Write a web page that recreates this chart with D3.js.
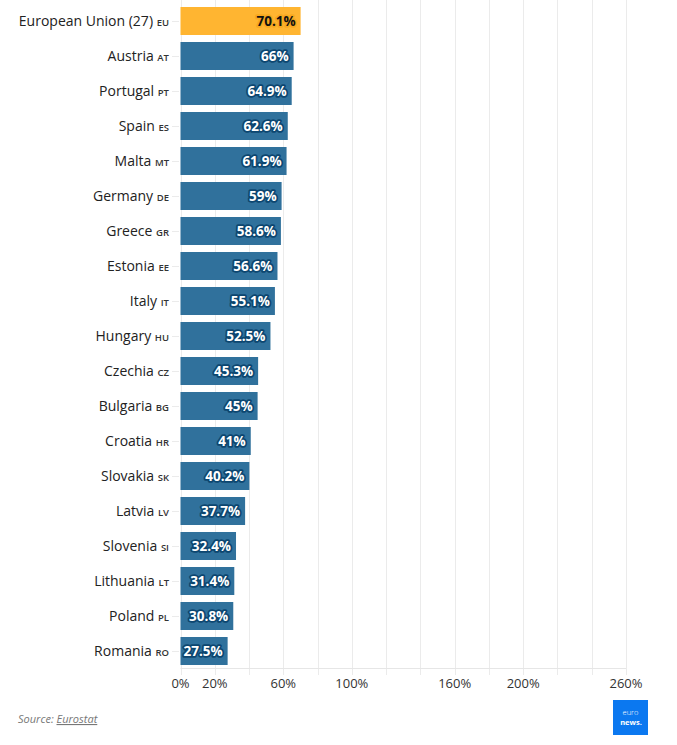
<!DOCTYPE html>
<html>
<head>
<meta charset="utf-8">
<script src="https://cdn.jsdelivr.net/npm/d3@7"></script>
<style>
  body { margin: 0; background: #fff; font-family: "Open Sans", sans-serif; }
  svg text { font-family: "Open Sans", sans-serif; }
</style>
</head>
<body>
<div id="chart"></div>
<script>
// podatki
const countries = ["European Union (27)", "Austria", "Portugal", "Spain", "Malta", "Germany", "Greece", "Estonia", "Italy", "Hungary", "Czechia", "Bulgaria", "Croatia", "Slovakia", "Latvia", "Slovenia", "Lithuania", "Poland", "Romania"];
const codes = ["EU", "AT", "PT", "ES", "MT", "DE", "GR", "EE", "IT", "HU", "CZ", "BG", "HR", "SK", "LV", "SI", "LT", "PL", "RO"];
const values = [70.1, 66, 64.9, 62.6, 61.9, 59, 58.6, 56.6, 55.1, 52.5, 45.3, 45, 41, 40.2, 37.7, 32.4, 31.4, 30.8, 27.5];
const gridTicks = [0, 20, 40, 60, 80, 100, 120, 140, 160, 180, 200, 220, 240, 260];
const tickLabels = [0, 20, 60, 100, 160, 200, 260];

const width = 677, height = 745;
const margin = { top: 3.5, left: 180.5, right: 51, bottom: 76.5 };

const rows = countries.map((c, i) => ({ name: c, code: codes[i], value: values[i], eu: i === 0 }));

const svg = d3.select("#chart").append("svg")
  .attr("width", width)
  .attr("height", height);

const x = d3.scaleLinear()
  .domain([0, 260])
  .range([margin.left, width - margin.right]);

const y = d3.scaleBand()
  .domain(countries)
  .range([margin.top, height - margin.bottom])
  .paddingInner(0.2)
  .paddingOuter(0.1);

const plotBottom = 668;

// mreža
svg.append("g")
  .selectAll("line")
  .data(gridTicks)
  .join("line")
  .attr("x1", d => Math.round(x(d)) + 0.5)
  .attr("x2", d => Math.round(x(d)) + 0.5)
  .attr("y1", 0)
  .attr("y2", plotBottom + 7)
  .attr("stroke", "#ebebeb")
  .attr("stroke-width", 1);

// os x
svg.append("line")
  .attr("x1", x(0)).attr("x2", x(260))
  .attr("y1", plotBottom + 0.5).attr("y2", plotBottom + 0.5)
  .attr("stroke", "#e6e6e6");

svg.append("g")
  .selectAll("text")
  .data(tickLabels)
  .join("text")
  .attr("x", d => x(d))
  .attr("y", 688)
  .attr("text-anchor", "middle")
  .attr("font-size", 13)
  .attr("fill", "#333")
  .text(d => d + "%");

// kratke oznake ob kategorijah
svg.append("g")
  .selectAll("line")
  .data(rows)
  .join("line")
  .attr("x1", 172).attr("x2", 179)
  .attr("y1", d => y(d.name) + y.bandwidth() / 2 + 0.5)
  .attr("y2", d => y(d.name) + y.bandwidth() / 2 + 0.5)
  .attr("stroke", "#ebebeb");

// stolpci
svg.append("g")
  .selectAll("rect")
  .data(rows)
  .join("rect")
  .attr("x", x(0))
  .attr("y", d => y(d.name))
  .attr("width", d => x(d.value) - x(0))
  .attr("height", y.bandwidth())
  .attr("fill", d => d.eu ? "#ffb531" : "#30719c");

// imena držav
const lab = svg.append("g")
  .selectAll("text")
  .data(rows)
  .join("text")
  .attr("x", 169)
  .attr("y", d => y(d.name) + y.bandwidth() / 2 + 5)
  .attr("text-anchor", "end")
  .attr("font-size", 14)
  .attr("fill", "#222");

lab.append("tspan").text(d => d.name + " ");
lab.append("tspan")
  .attr("font-size", 9.5)
  .attr("font-weight", 600)
  .attr("fill", "#333")
  .text(d => d.code);

// vrednosti
const fmt = d => d + "%";
const vals = svg.append("g");
["halo", "text"].forEach(kind => {
  vals.selectAll("text." + kind)
    .data(rows)
    .join("text")
    .attr("class", kind)
    .attr("x", d => x(d.value) - 5)
    .attr("y", d => y(d.name) + y.bandwidth() / 2 + 5)
    .attr("text-anchor", "end")
    .attr("font-size", 13.5)
    .attr("font-weight", 700)
    .attr("fill", d => kind === "halo" ? "none" : (d.eu ? "#111" : "#fff"))
    .attr("stroke", d => kind === "halo" ? (d.eu ? "#f7a81f" : "#0c4670") : "none")
    .attr("stroke-width", kind === "halo" ? 3.5 : 0)
    .attr("stroke-linejoin", "round")
    .text(d => fmt(d.value));
});

// vir
const src = svg.append("text")
  .attr("x", 18)
  .attr("y", 723)
  .attr("font-size", 11)
  .attr("font-style", "italic")
  .attr("fill", "#777");
src.append("tspan").text("Source: ");
src.append("tspan").attr("text-decoration", "underline").text("Eurostat");

// logotip
const logo = svg.append("g").attr("transform", "translate(613,700)");
logo.append("rect").attr("width", 35).attr("height", 35).attr("fill", "#0b78f0");
logo.append("text").attr("x", 17.5).attr("y", 14.5).attr("text-anchor", "middle")
  .attr("font-size", 7.5).attr("font-weight", 300).attr("fill", "#fff").text("euro");
logo.append("text").attr("x", 18).attr("y", 25).attr("text-anchor", "middle")
  .attr("font-size", 7.5).attr("font-weight", 700).attr("fill", "#fff").text("news.");
</script>
</body>
</html>
